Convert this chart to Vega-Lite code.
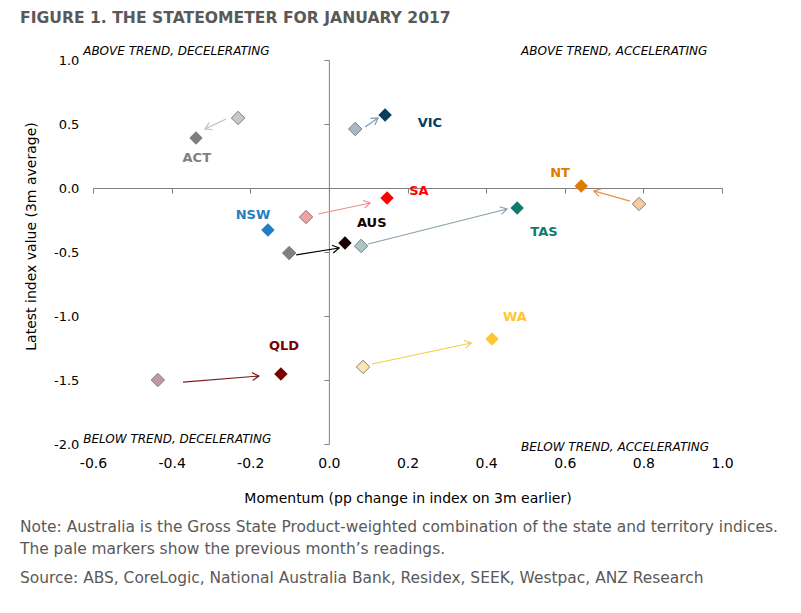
{
  "$schema": "https://vega.github.io/schema/vega-lite/v6.json",
  "background": "white",
  "padding": {"left": 20, "top": 11, "right": 5, "bottom": 5},
  "title": {
    "text": "FIGURE 1. THE STATEOMETER FOR JANUARY 2017",
    "anchor": "start",
    "font": "DejaVu Sans",
    "fontSize": 15.6,
    "fontWeight": "bold",
    "color": "#595959",
    "offset": 18
  },
  "datasets": {
    "states": [
      {"state": "ACT", "x": -0.338, "y": 0.391, "px": -0.231, "py": 0.547, "lx": -0.336, "ly": 0.234},
      {"state": "VIC", "x": 0.143, "y": 0.570, "px": 0.067, "py": 0.461, "lx": 0.257, "ly": 0.508},
      {"state": "SA", "x": 0.148, "y": -0.078, "px": -0.058, "py": -0.227, "lx": 0.229, "ly": -0.023},
      {"state": "NSW", "x": -0.155, "y": -0.328, "px": null, "py": null, "lx": -0.193, "ly": -0.211},
      {"state": "AUS", "x": 0.041, "y": -0.430, "px": -0.101, "py": -0.508, "lx": 0.109, "ly": -0.273},
      {"state": "TAS", "x": 0.479, "y": -0.156, "px": 0.082, "py": -0.453, "lx": 0.547, "ly": -0.344},
      {"state": "NT", "x": 0.642, "y": 0.016, "px": 0.789, "py": -0.125, "lx": 0.588, "ly": 0.117},
      {"state": "WA", "x": 0.415, "y": -1.180, "px": 0.087, "py": -1.398, "lx": 0.473, "ly": -1.008},
      {"state": "QLD", "x": -0.122, "y": -1.453, "px": -0.435, "py": -1.500, "lx": -0.114, "ly": -1.234}
    ],
    "arrows": [
      {"state": "ACT", "x0": -0.2615, "y0": 0.539, "x1": -0.315, "y1": 0.461},
      {"state": "VIC", "x0": 0.092, "y0": 0.477, "x1": 0.125, "y1": 0.547},
      {"state": "SA", "x0": -0.027, "y0": -0.203, "x1": 0.105, "y1": -0.117},
      {"state": "AUS", "x0": -0.083, "y0": -0.523, "x1": 0.026, "y1": -0.469},
      {"state": "TAS", "x0": 0.100, "y0": -0.4375, "x1": 0.453, "y1": -0.164},
      {"state": "NT", "x0": 0.766, "y0": -0.102, "x1": 0.674, "y1": -0.023},
      {"state": "WA", "x0": 0.110, "y0": -1.375, "x1": 0.362, "y1": -1.211},
      {"state": "QLD", "x0": -0.371, "y0": -1.516, "x1": -0.178, "y1": -1.469}
    ],
    "quadrants": [
      {"label": "ABOVE TREND, DECELERATING", "qx": -0.625, "qy": 1.07},
      {"label": "ABOVE TREND, ACCELERATING", "qx": 0.489, "qy": 1.07},
      {"label": "BELOW TREND, DECELERATING", "qx": -0.625, "qy": -1.961},
      {"label": "BELOW TREND, ACCELERATING", "qx": 0.489, "qy": -2.023}
    ]
  },
  "vconcat": [
    {
      "width": 629,
      "height": 384,
      "title": {
        "text": ["Note: Australia is the Gross State Product-weighted combination of the state and territory indices.", "The pale markers show the previous month’s readings."],
        "subtitle": "Source: ABS, CoreLogic, National Australia Bank, Residex, SEEK, Westpac, ANZ Research",
        "orient": "bottom",
        "anchor": "start",
        "frame": "group",
        "dx": -73,
        "offset": 15,
        "font": "DejaVu Sans",
        "fontSize": 15.45,
        "fontWeight": "normal",
        "color": "#595959",
        "lineHeight": 22,
        "subtitleFont": "DejaVu Sans",
        "subtitleFontSize": 15.45,
        "subtitleColor": "#595959",
        "subtitlePadding": 14
      },
      "layer": [
        {
          "data": {"name": "states"},
          "mark": {"type": "point", "shape": "diamond", "filled": true, "size": 180, "opacity": 0},
          "encoding": {
            "x": {"field": "x", "type": "quantitative", "scale": {"domain": [-0.6, 1.0], "nice": false, "zero": false},
              "axis": {
                "title": "Momentum (pp change in index on 3m earlier)",
                "values": [-0.6, -0.4, -0.2, 0.0, 0.2, 0.4, 0.6, 0.8, 1.0],
                "offset": -256,
                "labelPadding": 263,
                "tickSize": 5,
                "tickColor": "#808080",
                "domainColor": "#808080",
                "grid": false,
                "labelFlush": false,
                "labelOverlap": false,
                "labelFont": "DejaVu Sans",
                "labelFontSize": 14,
                "labelColor": "#000000",
                "labelExpr": "replace(format(datum.value, '.1f'), '\u2212', '-')",
                "titleFont": "DejaVu Sans",
                "titleFontSize": 14,
                "titleFontWeight": "normal",
                "titleColor": "#000000",
                "titleBaseline": "middle",
                "titleY": 310
              }},
            "y": {"field": "y", "type": "quantitative", "scale": {"domain": [-2.0, 1.0], "nice": false, "zero": false},
              "axis": {
                "title": "Latest index value (3m  average)",
                "values": [-2.0, -1.5, -1.0, -0.5, 0.0, 0.5, 1.0],
                "offset": -235.875,
                "labelPadding": 245,
                "tickSize": 5,
                "tickColor": "#808080",
                "domainColor": "#808080",
                "grid": false,
                "labelFlush": false,
                "labelOverlap": false,
                "labelFont": "DejaVu Sans",
                "labelFontSize": 13,
                "labelColor": "#000000",
                "labelExpr": "replace(format(datum.value, '.1f'), '\u2212', '-')",
                "titleFont": "DejaVu Sans",
                "titleFontSize": 14,
                "titleFontWeight": "normal",
                "titleColor": "#000000",
                "titleBaseline": "middle",
                "titleX": -297,
                "titleY": 176
              }}
          }
        },
        {
          "data": {"name": "arrows"},
          "mark": {"type": "rule", "strokeWidth": 1.2},
          "encoding": {
            "x": {"field": "x0", "type": "quantitative", "scale": {"domain": [-0.6, 1.0], "nice": false, "zero": false}},
            "y": {"field": "y0", "type": "quantitative", "scale": {"domain": [-2.0, 1.0], "nice": false, "zero": false}},
            "x2": {"field": "x1"},
            "y2": {"field": "y1"},
            "stroke": {"field": "state", "type": "nominal", "legend": null,
              "scale": {"domain": ["ACT", "VIC", "SA", "AUS", "TAS", "NT", "WA", "QLD"],
                        "range": ["#bfbfbf", "#7f99ad", "#f08c8c", "#000000", "#8aa0ad", "#e8924a", "#f2cc4a", "#7a1a1a"]}}
          }
        },
        {
          "data": {"name": "arrows"},
          "transform": [
            {"calculate": "atan2(-(datum.y1 - datum.y0) * 128, (datum.x1 - datum.x0) * 393.125) * 180 / PI", "as": "ang"}
          ],
          "mark": {"type": "point", "shape": "M-1,-0.6L0,0L-1,0.6", "filled": false, "size": 169, "strokeWidth": 1.2, "opacity": 1},
          "encoding": {
            "x": {"field": "x1", "type": "quantitative", "scale": {"domain": [-0.6, 1.0], "nice": false, "zero": false}},
            "y": {"field": "y1", "type": "quantitative", "scale": {"domain": [-2.0, 1.0], "nice": false, "zero": false}},
            "angle": {"field": "ang", "type": "quantitative", "scale": null},
            "stroke": {"field": "state", "type": "nominal", "legend": null,
              "scale": {"domain": ["ACT", "VIC", "SA", "AUS", "TAS", "NT", "WA", "QLD"],
                        "range": ["#bfbfbf", "#7f99ad", "#f08c8c", "#000000", "#8aa0ad", "#e8924a", "#f2cc4a", "#7a1a1a"]}}
          }
        },
        {
          "data": {"name": "states"},
          "transform": [{"filter": "isValid(datum.px)"}],
          "mark": {"type": "point", "shape": "diamond", "filled": true, "size": 180, "stroke": "#7f7f7f", "strokeWidth": 1, "opacity": 1},
          "encoding": {
            "x": {"field": "px", "type": "quantitative", "scale": {"domain": [-0.6, 1.0], "nice": false, "zero": false}},
            "y": {"field": "py", "type": "quantitative", "scale": {"domain": [-2.0, 1.0], "nice": false, "zero": false}},
            "fill": {"field": "state", "type": "nominal", "legend": null,
              "scale": {"domain": ["ACT", "VIC", "SA", "AUS", "TAS", "NT", "WA", "QLD"],
                        "range": ["#c8c8c8", "#a9b8c6", "#f4a0a0", "#7f7f7f", "#a8c8c8", "#fac99c", "#fce6b0", "#c09aa0"]}}
          }
        },
        {
          "data": {"name": "states"},
          "mark": {"type": "point", "shape": "diamond", "filled": true, "size": 180, "opacity": 1},
          "encoding": {
            "x": {"field": "x", "type": "quantitative", "scale": {"domain": [-0.6, 1.0], "nice": false, "zero": false}},
            "y": {"field": "y", "type": "quantitative", "scale": {"domain": [-2.0, 1.0], "nice": false, "zero": false}},
            "color": {"field": "state", "type": "nominal", "legend": null,
              "scale": {"domain": ["ACT", "VIC", "SA", "NSW", "AUS", "TAS", "NT", "WA", "QLD"],
                        "range": ["#7f7f7f", "#0b3c5d", "#ff0000", "#1f7fc1", "#140000", "#0f7b6c", "#e07b00", "#ffc637", "#7a0000"]}}
          }
        },
        {
          "data": {"name": "states"},
          "mark": {"type": "text", "font": "DejaVu Sans", "fontSize": 13, "fontWeight": "bold", "align": "center", "baseline": "middle"},
          "encoding": {
            "x": {"field": "lx", "type": "quantitative", "scale": {"domain": [-0.6, 1.0], "nice": false, "zero": false}},
            "y": {"field": "ly", "type": "quantitative", "scale": {"domain": [-2.0, 1.0], "nice": false, "zero": false}},
            "text": {"field": "state"},
            "color": {"field": "state", "type": "nominal", "legend": null,
              "scale": {"domain": ["ACT", "VIC", "SA", "NSW", "AUS", "TAS", "NT", "WA", "QLD"],
                        "range": ["#7f7f7f", "#0b3c5d", "#ff0000", "#1f7fc1", "#140000", "#0f7b6c", "#e07b00", "#ffc637", "#7a0000"]}}
          }
        },
        {
          "data": {"name": "quadrants"},
          "mark": {"type": "text", "font": "DejaVu Sans", "fontSize": 12, "fontStyle": "italic", "align": "left", "baseline": "middle", "color": "#000000"},
          "encoding": {
            "x": {"field": "qx", "type": "quantitative", "scale": {"domain": [-0.6, 1.0], "nice": false, "zero": false}},
            "y": {"field": "qy", "type": "quantitative", "scale": {"domain": [-2.0, 1.0], "nice": false, "zero": false}},
            "text": {"field": "label"}
          }
        }
      ]
    }
  ],
  "config": {
    "view": {"stroke": null},
    "font": "DejaVu Sans"
  }
}
